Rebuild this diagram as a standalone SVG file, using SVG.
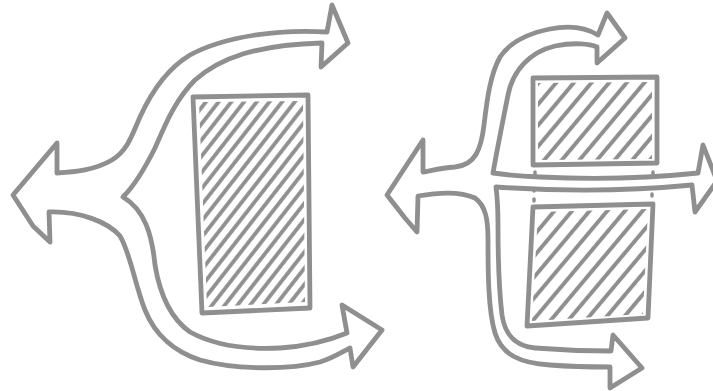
<svg xmlns="http://www.w3.org/2000/svg" width="713" height="391" viewBox="0 0 713 391">
<style>
.ln{fill:none;stroke:#8f8f8f;stroke-width:4.8;stroke-linejoin:round;stroke-linecap:round}
.dot{fill:none;stroke:#8f8f8f;stroke-width:3.5;stroke-linecap:round}
</style>
<defs>
<pattern id="h9" patternUnits="userSpaceOnUse" width="10" height="10" patternTransform="rotate(38)">
<line x1="5" y1="-2" x2="5" y2="12" stroke="#8f8f8f" stroke-width="3.8"/>
</pattern>
<pattern id="h12" patternUnits="userSpaceOnUse" width="13.5" height="13.5" patternTransform="rotate(40)">
<line x1="6.75" y1="-2" x2="6.75" y2="15.5" stroke="#8f8f8f" stroke-width="4"/>
</pattern>
</defs>
<rect width="713" height="391" fill="#ffffff"/>
<g id="left-figure">
<path class="ln" d="M327,32 C280,29 225,36 190,55 C165,70 150,95 140,117 C132,135 128,150 112,160 C95,170 75,172 57,173 L57,143 L13,195 L33,226 L50,242 L49,212 C80,211 108,222 120,236 C130,252 135,285 145,310 C155,335 175,352 200,360 C235,370 290,370 320,362 C333,358 342,352 350,348 L353,367 L382,330 L342,305 L347,333 C330,340 310,346 280,348 C240,350 210,343 190,332 C170,318 160,295 155,265 C152,235 145,210 123,197 C135,185 145,168 155,148 C165,125 175,100 195,80 C220,58 255,45 322,43 L321,67 L348,43 L332,5 Z"/>
<polygon points="199,102 303,101 305,302 207,307" fill="url(#h9)"/>
<path class="ln" d="M193,97 L308,95 L310,308 L202,313 Z"/>
</g>
<g id="right-figure">
<path class="ln" d="M598,35 C585,27 570,25 550,29 C530,33 510,42 500,57 C490,75 487,100 484,125 C481,150 475,165 455,167 C440,168 430,171 423,172 L423,140 L387,195 L405,218 L417,232 L418,196 C435,193 460,191 475,198 C486,206 488,220 488,240 C488,270 488,310 495,333 C502,355 520,363 550,365 C575,367 595,367 610,367 L610,388 L642,368 L613,335 L611,351 C590,351 560,350 535,348 C515,346 505,335 502,315 C499,290 498,250 498,225 C498,205 497,195 496,187 C540,190 610,193 692,185 L695,212 L717,181 L703,145 L698,173 C660,177 600,180 540,177 C515,176 500,174 493,173 C497,150 503,120 508,95 C513,70 530,52 555,46 C575,42 590,44 597,47 L597,63 L625,38 L607,13 Z"/>
<polygon points="538,83 652,82 652,159 538,160" fill="url(#h12)"/>
<path class="ln" d="M533,78 L657,77 L657,163 L533,165 Z"/>
<polygon points="538,212 648,209 643,314 532,321" fill="url(#h12)"/>
<path class="ln" d="M533,207 L653,204 L648,318 L527,326 Z"/>
<g id="dots">
<line class="dot" x1="535" y1="172" x2="535" y2="174"/>
<line class="dot" x1="534" y1="189" x2="534" y2="191"/>
<line class="dot" x1="534" y1="199" x2="534" y2="201"/>
<line class="dot" x1="653" y1="172" x2="653" y2="175"/>
<line class="dot" x1="652" y1="194" x2="652" y2="196"/>
</g>
</g>
</svg>
